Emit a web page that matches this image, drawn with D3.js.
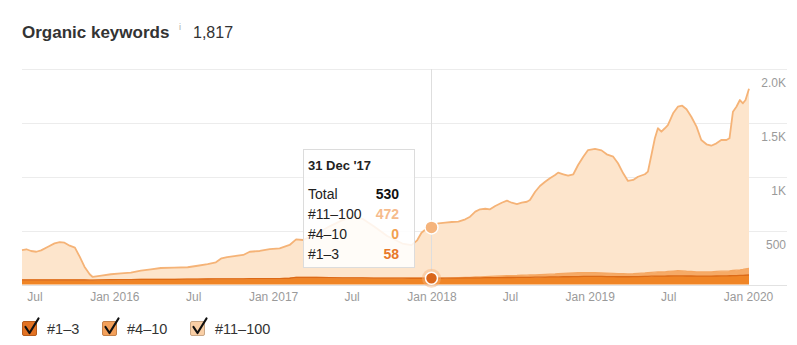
<!DOCTYPE html>
<html><head><meta charset="utf-8">
<script src="https://cdn.jsdelivr.net/npm/d3@7"></script>
<style>
body{margin:0;background:#fff;}
svg{display:block;font-family:"Helvetica Neue",Helvetica,Arial,"Liberation Sans",sans-serif;}
</style></head><body>
<svg id="c" width="797" height="345"></svg>
<script>
const dates = ["2015-06-01","2015-06-11","2015-06-22","2015-07-04","2015-07-15","2015-07-31","2015-08-15","2015-08-27","2015-09-07","2015-09-19","2015-10-01","2015-10-12","2015-10-23","2015-11-04","2015-11-11","2015-12-01","2015-12-23","2016-01-15","2016-02-07","2016-03-01","2016-03-24","2016-04-16","2016-05-17","2016-06-17","2016-07-10","2016-08-02","2016-08-21","2016-09-03","2016-09-16","2016-10-23","2016-11-07","2016-11-30","2016-12-23","2017-01-15","2017-02-07","2017-02-22","2017-03-10","2017-04-10","2017-05-10","2017-06-10","2017-07-05","2017-07-25","2017-08-20","2017-09-20","2017-10-25","2017-11-15","2017-11-28","2017-12-08","2017-12-20","2017-12-31","2018-01-16","2018-02-01","2018-02-16","2018-03-03","2018-03-19","2018-03-30","2018-04-11","2018-04-22","2018-05-04","2018-05-15","2018-05-27","2018-06-11","2018-06-23","2018-07-04","2018-07-16","2018-07-27","2018-08-08","2018-08-15","2018-08-27","2018-09-07","2018-09-19","2018-09-30","2018-10-12","2018-10-19","2018-10-31","2018-11-11","2018-11-23","2018-12-04","2018-12-16","2018-12-27","2019-01-12","2019-01-27","2019-02-08","2019-02-23","2019-03-06","2019-03-18","2019-03-29","2019-04-10","2019-04-21","2019-05-07","2019-05-14","2019-05-22","2019-05-30","2019-06-06","2019-06-14","2019-06-22","2019-06-29","2019-07-11","2019-07-22","2019-08-01","2019-08-11","2019-08-22","2019-09-03","2019-09-14","2019-09-26","2019-10-07","2019-10-19","2019-10-30","2019-11-11","2019-11-18","2019-11-26","2019-12-04","2019-12-12","2019-12-19","2019-12-25","2020-01-02"];
const kw1_3 = [42,42,42,42,42,42,42,42,42,42,42,42,42,40,40,42,44,45,46,47,47,48,48,50,50,51,52,52,52,53,54,54,55,55,58,65,66,65,64,62,62,61,60,60,59,58,58,58,58,58,58,59,60,60,61,61,62,62,63,63,64,64,65,65,66,66,67,67,68,68,69,70,70,71,72,72,73,74,75,76,76,75,74,73,72,72,72,73,74,75,76,77,78,78,78,78,79,80,80,80,79,79,78,78,78,78,79,80,80,81,82,83,84,85,86,88];
const kw4_10 = [0,0,0,0,0,0,0,0,0,0,0,0,0,0,0,0,0,0,0,0,0,0,0,0,0,0,0,0,0,0,0,0,0,0,0,0,0,0,0,0,0,0,0,0,0,0,0,0,0,0,0,0,2,4,5,6,8,9,10,12,13,15,16,18,18,20,20,22,22,24,25,26,28,30,32,34,35,36,36,35,34,33,32,30,28,28,27,28,30,32,33,35,36,38,38,40,42,45,48,46,44,42,40,40,40,40,42,44,44,45,48,50,52,55,58,62];
const kw11_100 = [278,285,269,262,275,309,340,352,346,318,300,216,123,55,30,40,51,59,64,81,94,105,108,110,124,139,154,191,203,221,250,257,274,281,309,354,347,405,476,538,568,549,480,390,321,307,352,422,462,472,510,515,518,519,539,562,606,627,630,623,652,680,697,676,663,673,681,695,771,822,860,890,918,937,919,904,915,999,1075,1137,1148,1137,1102,1083,1025,932,862,869,896,916,938,1090,1243,1334,1302,1332,1359,1464,1522,1533,1503,1436,1347,1223,1183,1170,1189,1217,1217,1231,1474,1517,1576,1542,1568,1667];
const seriesKeys = ["kw1_3","kw4_10","kw11_100"];
const seriesNames = ["#1–3","#4–10","#11–100"];
const yTicks = [0,500,1000,1500,2000];
const yTickLabels = ["","500","1K","1.5K","2.0K"];
const xTicks = ["2015-07-01","2016-01-01","2016-07-01","2017-01-01","2017-07-01","2018-01-01","2018-07-01","2019-01-01","2019-07-01","2020-01-01"];
const xTickLabels = ["Jul","Jan 2016","Jul","Jan 2017","Jul","Jan 2018","Jul","Jan 2019","Jul","Jan 2020"];
const tooltipDate = "2017-12-31";
const titleText = "Organic keywords";

const parse = d3.timeParse("%Y-%m-%d");
const rows = dates.map((d,i)=>({date:parse(d),kw1_3:kw1_3[i],kw4_10:kw4_10[i],kw11_100:kw11_100[i]}));
const svg = d3.select("#c");
const fills = {kw1_3:"#f08526",kw4_10:"#f6aa66",kw11_100:"#fde5cc"};
const strokes = {kw1_3:"#dc6a17",kw4_10:"#f5a762",kw11_100:"#f5b377"};
const legendFill = {kw1_3:"#e27223",kw4_10:"#f3a05a",kw11_100:"#f9cfa6"};
const valColor = {kw1_3:"#e8782a",kw4_10:"#f2a04f",kw11_100:"#f6bb8c"};

const x = d3.scaleTime().domain([rows[0].date, rows[rows.length-1].date]).range([22,749]);
const y = d3.scaleLinear().domain([0,2000]).range([284.5,69]);

// grid
const g = svg.append("g");
g.selectAll("line.grid").data(yTicks).join("line")
  .attr("x1",22).attr("x2",787)
  .attr("y1",d=>Math.round(y(d))+0.5).attr("y2",d=>Math.round(y(d))+0.5)
  .attr("stroke",d=>d===0?"#e2e2e2":"#ececec").attr("stroke-width",1);
g.selectAll("text.yl").data(yTicks).join("text")
  .attr("x",786).attr("y",d=>y(d)+18).attr("text-anchor","end")
  .attr("font-size",12).attr("fill","#9a9a9a")
  .text((d,i)=>yTickLabels[i]);

// stacked areas
const stack = d3.stack().keys(seriesKeys)(rows);
const area = d3.area().x(d=>x(d.data.date)).y0(d=>y(d[0])).y1(d=>y(d[1]));
const line = d3.line().x(d=>x(d.data.date)).y(d=>y(d[1]));
svg.append("g").selectAll("path").data(stack).join("path")
  .attr("d",area).attr("fill",d=>fills[d.key]);
svg.append("g").selectAll("path").data(stack.slice().reverse()).join("path")
  .attr("d",line).attr("fill","none")
  .attr("stroke",d=>strokes[d.key]).attr("stroke-width",d=>d.key==="kw11_100"?1.8:1.3)
  .attr("stroke-linejoin","round");

// x labels
svg.append("g").selectAll("text").data(xTicks).join("text")
  .attr("x",d=>x(parse(d))).attr("y",301).attr("text-anchor","middle")
  .attr("font-size",12).attr("fill","#9a9a9a")
  .text((d,i)=>xTickLabels[i]);

// crosshair
const td = parse(tooltipDate);
const ti = rows.findIndex(r=>+r.date===+td);
const tr = rows[ti];
const total = tr.kw1_3+tr.kw4_10+tr.kw11_100;
const cx = Math.round(x(td))+0.5;
svg.append("line").attr("x1",cx).attr("x2",cx).attr("y1",69).attr("y2",284)
  .attr("stroke","#dedede").attr("stroke-width",1);

// tooltip
const tt = svg.append("g");
tt.append("rect").attr("x",303.5).attr("y",149.5).attr("width",111).attr("height",118)
  .attr("fill","#ffffff").attr("fill-opacity",0.86).attr("stroke","#dcdcdc");
tt.append("text").attr("x",308).attr("y",170).attr("font-size",13).attr("font-weight","bold")
  .attr("fill","#222").text(d3.timeFormat("%d %b '%y")(td));
const ttRows = [
  {label:"Total", value:total, color:"#111"},
  {label:seriesNames[2], value:tr.kw11_100, color:valColor.kw11_100},
  {label:seriesNames[1], value:tr.kw4_10, color:valColor.kw4_10},
  {label:seriesNames[0], value:tr.kw1_3, color:valColor.kw1_3}
];
ttRows.forEach((r,i)=>{
  tt.append("text").attr("x",308).attr("y",199+i*20).attr("font-size",14).attr("fill","#222").text(r.label);
  tt.append("text").attr("x",399).attr("y",199+i*20).attr("font-size",14).attr("font-weight","bold")
    .attr("text-anchor","end").attr("fill",r.color).text(r.value);
});

// dots
svg.append("circle").attr("cx",x(td)).attr("cy",y(total)).attr("r",6.5)
  .attr("fill","#f5b47c").attr("stroke","#fff").attr("stroke-width",1.5);
svg.append("circle").attr("cx",x(td)).attr("cy",y(tr.kw1_3)).attr("r",9.5)
  .attr("fill","#f6b27a").attr("fill-opacity",0.45);
svg.append("circle").attr("cx",x(td)).attr("cy",y(tr.kw1_3)).attr("r",6)
  .attr("fill","#d9661b").attr("stroke","#fff").attr("stroke-width",1.5);

// title
const t = svg.append("text").attr("x",22).attr("y",38);
t.append("tspan").attr("font-size",17).attr("font-weight","bold").attr("fill","#333").text(titleText);
svg.append("text").attr("x",179).attr("y",30).attr("font-size",9).attr("fill","#aaa").text("i");
svg.append("text").attr("x",193).attr("y",38).attr("font-size",16).attr("fill","#333")
  .text(d3.format(",")(rows[rows.length-1].kw1_3+rows[rows.length-1].kw4_10+rows[rows.length-1].kw11_100));

// legend
const lx = [22,102,190];
const lg = svg.append("g");
seriesKeys.forEach((k,i)=>{
  const gx = lx[i];
  lg.append("rect").attr("x",gx+0.5).attr("y",321.5).attr("width",14).attr("height",14).attr("rx",1.5)
    .attr("fill",legendFill[k]).attr("stroke",d3.color(legendFill[k]).darker(0.6));
  lg.append("path").attr("d",`M${gx+3.5},${327} L${gx+7.5},${333} L${gx+16.5},${318.5}`)
    .attr("fill","none").attr("stroke","#111").attr("stroke-width",2.2).attr("stroke-linecap","round").attr("stroke-linejoin","round");
  lg.append("text").attr("x",gx+25).attr("y",334).attr("font-size",14.5).attr("fill","#333").text(seriesNames[i]);
});
</script>
</body></html>
